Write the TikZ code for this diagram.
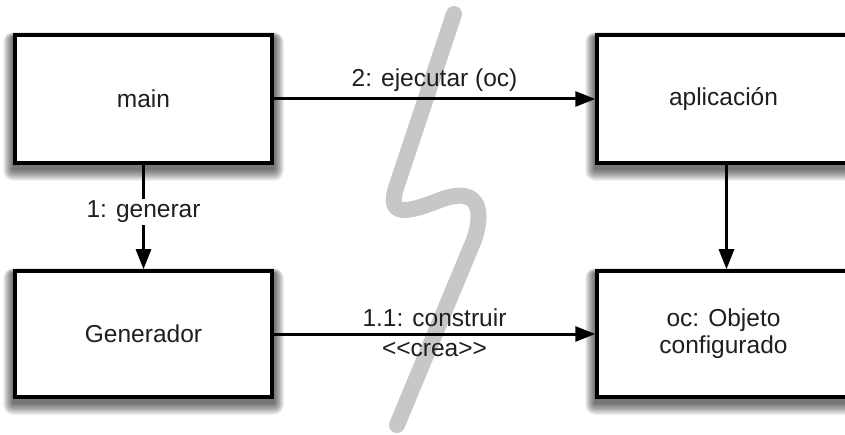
\documentclass[tikz,border=0pt]{standalone}
\usepackage{fontspec}
\setmainfont{Liberation Sans}
\usetikzlibrary{arrows.meta,backgrounds}
\newcommand\boxshadow[1]{%
  \foreach \r in {1,...,10}{%
    \fill[black, opacity=0.07, rounded corners=\r pt]
      ([xshift=-\r pt, yshift=0.5*\r pt - 4pt]#1.north west) rectangle
      ([xshift=\r pt, yshift=-1.2*\r pt - 4pt]#1.south east);}}
\begin{document}
\begin{tikzpicture}[x=1pt,y=-1pt,
  every node/.style={font=\fontsize{24.5}{27}\selectfont, text=black!88},
  box/.style={draw=black, line width=3.5pt, fill=white, inner sep=0pt},
  conn/.style={line width=3pt, -{Triangle[length=20pt,width=15pt]}},
  lbl/.style={inner sep=2pt}]
\clip (0,0) rectangle (845,435);
% boxes
\node[box, minimum width=257pt, minimum height=128pt] (main) at (143.5,99) {main};
\node[box, minimum width=253pt, minimum height=128pt] (apl) at (723.5,99) {aplicación};
\node[box, minimum width=257pt, minimum height=126pt] (gen) at (143.5,334) {Generador};
\node[box, minimum width=253pt, minimum height=126pt, align=center] (oc) at (723.5,334) {oc: Objeto\\configurado};
\begin{scope}[on background layer]
  \fill[white] (0,0) rectangle (845,435);
  \boxshadow{main}\boxshadow{apl}\boxshadow{gen}\boxshadow{oc}
  % gray squiggle
  \draw[line width=16pt, black!22, line cap=round, line join=round]
    (454,14) -- (396,188) .. controls (387,216) and (405,214) .. (440,200)
    .. controls (474,187) and (486,204) .. (474,240) -- (397,425);
\end{scope}
% connectors
\draw[conn] (main.east) -- node[lbl, above=4pt] {2: ejecutar (oc)} (apl.west);
\draw[conn] (main.south) -- node[lbl, fill=white, pos=0.45] {1: generar} (gen.north);
\draw[conn] ([xshift=3pt]apl.south) -- ([xshift=3pt]oc.north);
\draw[conn] (gen.east) -- node[lbl, above=4pt] {1.1: construir} node[lbl, below=5pt] {{<}{<}crea{>}{>}} (oc.west);
\end{tikzpicture}
\end{document}
